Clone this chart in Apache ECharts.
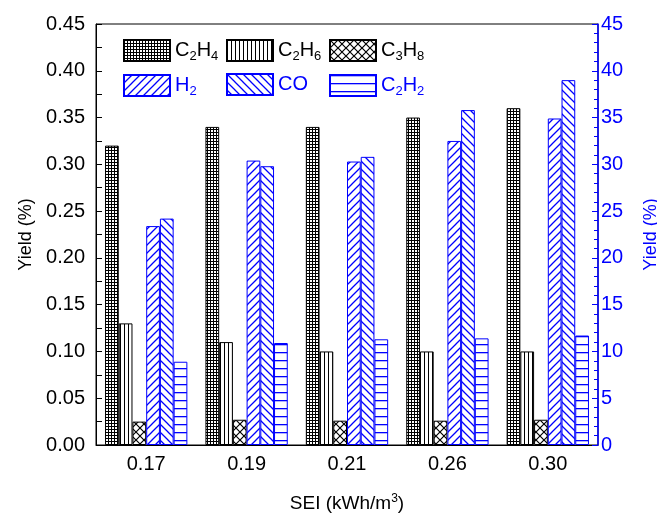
<!DOCTYPE html>
<html>
<head>
<meta charset="utf-8">
<script src="https://cdn.jsdelivr.net/npm/echarts@6/dist/echarts.min.js"></script>
<style>
  html, body { margin: 0; padding: 0; background: #fff; }
  #main { width: 657px; height: 513px; }
</style>
</head>
<body>
<div id="main"></div>
<script>
// 数据
var categories = ['0.17', '0.19', '0.21', '0.26', '0.30'];
// 左轴 (黑)
var c2h4 = [0.32, 0.34, 0.34, 0.35, 0.36];
var c2h6 = [0.13, 0.11, 0.10, 0.10, 0.10];
var c3h8 = [0.025, 0.027, 0.026, 0.026, 0.027];
// 右轴 (蓝)
var h2 = [23.4, 30.4, 30.3, 32.5, 34.9];
var co = [24.2, 29.8, 30.8, 35.8, 39.0];
var c2h2 = [8.9, 10.9, 11.3, 11.4, 11.7];

var BLUE = '#0000ff';
var FONT = 'Liberation Sans, Arial, sans-serif';

// 填充图案
function makePattern(w, h, color, draw) {
  var c = document.createElement('canvas');
  c.width = w; c.height = h;
  var ctx = c.getContext('2d');
  ctx.fillStyle = '#fff';
  ctx.fillRect(0, 0, w, h);
  ctx.strokeStyle = color;
  ctx.fillStyle = color;
  draw(ctx, w, h);
  return { image: c, repeat: 'repeat' };
}
var patGrid = makePattern(3, 3, '#000', function (ctx) {
  ctx.fillRect(0, 0, 3, 1);
  ctx.fillRect(0, 0, 1, 3);
});
var patVert = makePattern(4, 1, '#000', function (ctx) {
  ctx.fillRect(0, 0, 1, 1);
});
var patCross = makePattern(8, 8, '#000', function (ctx) {
  ctx.lineWidth = 1.2;
  ctx.beginPath();
  ctx.moveTo(0, 0); ctx.lineTo(8, 8);
  ctx.moveTo(8, 0); ctx.lineTo(0, 8);
  ctx.stroke();
});
var patSlash = makePattern(8, 8, BLUE, function (ctx) {
  ctx.lineWidth = 1.3;
  ctx.beginPath();
  ctx.moveTo(-1, 9); ctx.lineTo(9, -1);
  ctx.moveTo(-1, 1); ctx.lineTo(1, -1);
  ctx.moveTo(7, 9); ctx.lineTo(9, 7);
  ctx.stroke();
});
var patBack = makePattern(8, 8, BLUE, function (ctx) {
  ctx.lineWidth = 1.3;
  ctx.beginPath();
  ctx.moveTo(-1, -1); ctx.lineTo(9, 9);
  ctx.moveTo(7, -1); ctx.lineTo(9, 1);
  ctx.moveTo(-1, 7); ctx.lineTo(1, 9);
  ctx.stroke();
});
var patHoriz = makePattern(1, 8, BLUE, function (ctx) {
  ctx.fillRect(0, 0, 1, 1.3);
});

function mkSeries(name, data, pat, border, axis) {
  return {
    name: name,
    type: 'bar',
    yAxisIndex: axis,
    data: data,
    barGap: '0%',
    barCategoryGap: '18%',
    itemStyle: { color: pat, borderColor: border, borderWidth: 1 }
  };
}

var labels = {
  'C2H4': '{a|C}{s|2}{a|H}{s|4}',
  'C2H6': '{a|C}{s|2}{a|H}{s|6}',
  'C3H8': '{a|C}{s|3}{a|H}{s|8}',
  'H2': '{a|H}{s|2}',
  'CO': '{a|CO}',
  'C2H2': '{a|C}{s|2}{a|H}{s|2}'
};
function mkLegend(name, left, top, color) {
  return {
    data: [{ name: name, icon: 'rect' }],
    left: left,
    top: top,
    itemWidth: 46,
    itemHeight: 21,
    itemGap: 0,
    selectedMode: false,
    formatter: function (n) { return labels[n]; },
    textStyle: {
      color: color,
      rich: {
        a: { fontSize: 20, fontFamily: FONT, color: color, lineHeight: 24 },
        s: { fontSize: 13, fontFamily: FONT, color: color, padding: [12, 0, 0, 0], lineHeight: 24 }
      }
    }
  };
}

var chart = echarts.init(document.getElementById('main'), null, { renderer: 'canvas' });
var option = {
  backgroundColor: '#fff',
  animation: false,
  textStyle: { fontFamily: FONT },
  grid: {
    left: 96, right: 59, top: 24, bottom: 68,
    outerBoundsMode: 'none',
    containLabel: false,
    show: true, borderColor: '#000', borderWidth: 1
  },
  legend: [
    mkLegend('C2H4', 118, 33, '#000'),
    mkLegend('C2H6', 221, 33, '#000'),
    mkLegend('C3H8', 324, 33, '#000'),
    mkLegend('H2', 118, 68, BLUE),
    mkLegend('CO', 221, 68, BLUE),
    mkLegend('C2H2', 324, 68, BLUE)
  ],
  xAxis: {
    type: 'category',
    data: categories,
    axisLine: { lineStyle: { color: '#000', width: 1 } },
    axisTick: { show: false },
    axisLabel: { color: '#000', fontSize: 20, margin: 9, fontFamily: FONT },
    name: 'SEI (kWh/m{sup|3})',
    nameLocation: 'middle',
    nameGap: 48,
    nameTextStyle: {
      color: '#000', fontSize: 19, fontFamily: FONT,
      rich: { sup: { fontSize: 12, fontFamily: FONT, color: '#000', padding: [0, 0, 10, 0] } }
    }
  },
  yAxis: [
    {
      type: 'value',
      min: 0, max: 0.45, interval: 0.05,
      position: 'left',
      splitLine: { show: false },
      axisLine: { show: true, lineStyle: { color: '#000' } },
      axisTick: { show: true, inside: true, length: 6, lineStyle: { color: '#000' } },
      minorTick: { show: true, splitNumber: 2, length: 6, lineStyle: { color: '#000' } },
      axisLabel: {
        color: '#000', fontSize: 20, margin: 11, fontFamily: FONT,
        formatter: function (v) { return v.toFixed(2); }
      },
      name: 'Yield (%)',
      nameLocation: 'middle',
      nameGap: 52,
      nameTextStyle: { color: '#000', fontSize: 18, fontFamily: FONT }
    },
    {
      type: 'value',
      min: 0, max: 45, interval: 5,
      position: 'right',
      splitLine: { show: false },
      axisLine: { show: true, lineStyle: { color: BLUE, width: 1.5 } },
      axisTick: { show: true, inside: true, length: 6, lineStyle: { color: BLUE } },
      minorTick: { show: true, splitNumber: 5, length: 4, lineStyle: { color: BLUE } },
      axisLabel: { color: BLUE, fontSize: 20, margin: 3, fontFamily: FONT },
      name: 'Yield (%)',
      nameLocation: 'middle',
      nameGap: 44,
      nameTextStyle: { color: BLUE, fontSize: 18, fontFamily: FONT }
    }
  ],
  series: [
    mkSeries('C2H4', c2h4, patGrid, '#000', 0),
    mkSeries('C2H6', c2h6, patVert, '#000', 0),
    mkSeries('C3H8', c3h8, patCross, '#000', 0),
    mkSeries('H2', h2, patSlash, BLUE, 1),
    mkSeries('CO', co, patBack, BLUE, 1),
    mkSeries('C2H2', c2h2, patHoriz, BLUE, 1)
  ]
};
chart.setOption(option);
</script>
</body>
</html>
